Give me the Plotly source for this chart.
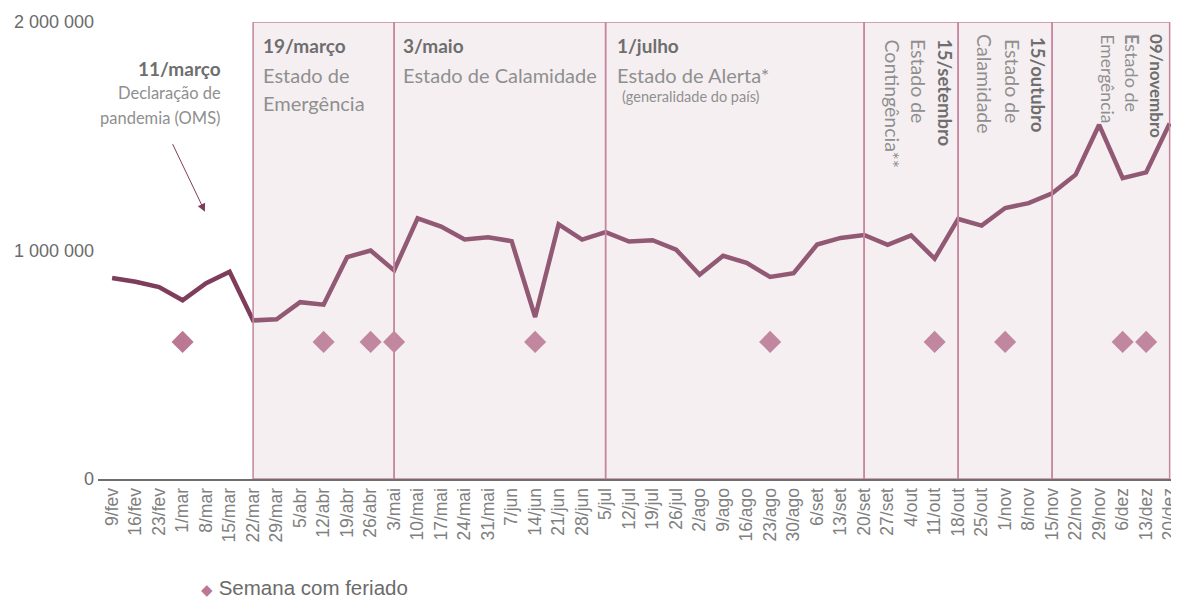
import plotly.graph_objects as go

# weekly series (semanas a partir de 9/fev)
weeks = [
    "9/fev", "16/fev", "23/fev", "1/mar", "8/mar", "15/mar", "22/mar", "29/mar",
    "5/abr", "12/abr", "19/abr", "26/abr", "3/mai", "10/mai", "17/mai", "24/mai",
    "31/mai", "7/jun", "14/jun", "21/jun", "28/jun", "5/jul", "12/jul", "19/jul",
    "26/jul", "2/ago", "9/ago", "16/ago", "23/ago", "30/ago", "6/set", "13/set",
    "20/set", "27/set", "4/out", "11/out", "18/out", "25/out", "1/nov", "8/nov",
    "15/nov", "22/nov", "29/nov", "6/dez", "13/dez", "20/dez",
]
values = [
    880000, 863000, 840000, 782000, 857000, 907000, 694000, 699000,
    774000, 763000, 971000, 1000000, 913000, 1141000, 1105000, 1048000,
    1058000, 1041000, 709000, 1114000, 1048000, 1080000, 1039000, 1045000,
    1004000, 894000, 977000, 946000, 884000, 901000, 1026000, 1055000,
    1068000, 1025000, 1066000, 964000, 1138000, 1109000, 1186000, 1207000,
    1250000, 1332000, 1550000, 1317000, 1342000, 1556000,
]
holiday_weeks = ["1/mar", "12/abr", "26/abr", "3/mai", "14/jun", "23/ago",
                 "11/out", "1/nov", "6/dez", "13/dez"]
holiday_level = 600000

# periods: start week, end week
period_start = ["22/mar", "3/mai", "5/jul", "20/set", "18/out", "15/nov"]
period_end = ["3/mai", "5/jul", "20/set", "18/out", "15/nov", "20/dez"]

y_ticks = [0, 1000000, 2000000]
y_ticktext = ["0", "1 000 000", "2 000 000"]

idx = {w: i for i, w in enumerate(weeks)}

# the page body has an 8px margin, so the figure is drawn 8px smaller
OFF = 8
FIG_W, FIG_H = 1179 - OFF, 601 - OFF
# plot area in screen pixels
L, T, W, H = 98, 22, 1074, 457


def px(x):
    return (x - L) / W


def py(y):
    return (T + H - y) / H


LINE = "#7E3D5B"
TITLE_C = "#6E6E6E"
DESC_C = "#8F8F8F"
FONT = "Lato"

fig = go.Figure()

fig.add_trace(go.Scatter(
    x=list(range(len(weeks))), y=values, mode="lines",
    line={"color": LINE, "width": 4.5}, showlegend=False, hoverinfo="skip",
))
fig.add_trace(go.Scatter(
    x=[idx[w] for w in holiday_weeks], y=[holiday_level] * len(holiday_weeks),
    mode="markers", name="Semana com feriado", showlegend=False,
    marker={"symbol": "diamond", "size": 17, "color": "#BA7893"},
))

shapes = []
for s, e in zip(period_start, period_end):
    shapes.append(dict(
        type="rect", xref="x", yref="y", x0=idx[s], x1=idx[e], y0=0, y1=2000000,
        fillcolor="rgba(216,186,199,0.23)", line={"color": "#C6869F", "width": 1.5},
        layer="above",
    ))

ann = []


def text(x, y, t, size, color, bold=False, xanchor="left", angle=0, yanchor="middle",
         family=FONT):
    ann.append(dict(
        xref="paper", yref="paper", x=px(x), y=py(y), text=f"<b>{t}</b>" if bold else t,
        showarrow=False, xanchor=xanchor, yanchor=yanchor, textangle=angle,
        font={"family": family, "size": size, "color": color},
    ))


# 11/março
text(223, 68, "11/março", 19, TITLE_C, True, xanchor="right")
text(223, 93, "Declaração de", 16.5, DESC_C, xanchor="right")
text(223, 118, "pandemia (OMS)", 16.5, DESC_C, xanchor="right")
ann.append(dict(
    xref="x", yref="y", x=3.95, y=1170000, ax=-33, ay=-69, text="",
    showarrow=True, arrowhead=2, arrowsize=1.6, arrowwidth=1, arrowcolor=LINE,
))

# horizontal labels
text(261, 46, "19/março", 19, TITLE_C, True)
text(261, 75, "Estado de", 20, DESC_C)
text(261, 103, "Emergência", 20, DESC_C)
text(401, 46, "3/maio", 19, TITLE_C, True)
text(401, 75, "Estado de Calamidade", 20, DESC_C)
text(615, 46, "1/julho", 19, TITLE_C, True)
text(615, 75, "Estado de Alerta*", 20, DESC_C)
text(620, 97, "(generalidade do país)", 14.5, DESC_C)

# vertical labels
text(945, 37, "15/setembro", 18.5, TITLE_C, True, xanchor="center", angle=90, yanchor="top")
text(918, 37, "Estado de", 19.5, DESC_C, xanchor="center", angle=90, yanchor="top")
text(892, 37, "Contingência**", 19.5, DESC_C, xanchor="center", angle=90, yanchor="top")
text(1038, 35, "15/outubro", 18.5, TITLE_C, True, xanchor="center", angle=90, yanchor="top")
text(1012, 37, "Estado de", 19.5, DESC_C, xanchor="center", angle=90, yanchor="top")
text(985, 32, "Calamidade", 19.5, DESC_C, xanchor="center", angle=90, yanchor="top")
text(1157, 32, "09/novembro", 17, TITLE_C, True, xanchor="center", angle=90, yanchor="top")
text(1132, 32, "<b>E</b>stado de", 18, DESC_C, xanchor="center", angle=90, yanchor="top")
text(1107, 32, "Emergência", 17.5, DESC_C, xanchor="center", angle=90, yanchor="top")

# legend drawn as text so it does not push the margins
text(199, 587, "<span style='color:#BA7893;font-size:15px'>◆</span> Semana com feriado",
     20.5, "#6B6B6B", family="Liberation Sans")

fig.update_layout(
    width=FIG_W, height=FIG_H,
    margin={"l": L - OFF, "r": FIG_W - (L - OFF) - W, "t": T - OFF, "b": FIG_H - (T - OFF) - H},
    plot_bgcolor="white", paper_bgcolor="white",
    shapes=shapes, annotations=ann,
    showlegend=False,
    xaxis={
        "range": [-0.6, 45.1], "tickmode": "array", "tickvals": list(range(len(weeks))),
        "ticktext": weeks, "tickangle": -90, "showgrid": False, "zeroline": False,
        "showline": True, "linecolor": "#6E6E6E", "linewidth": 2, "ticks": "",
        "automargin": False, "ticklabeloverflow": "allow",
        "tickfont": {"family": "Liberation Sans", "size": 17.5, "color": "#808080"},
    },
    yaxis={
        "range": [0, 2000000], "tickmode": "array", "tickvals": y_ticks,
        "ticktext": y_ticktext, "showgrid": False, "zeroline": False, "showline": False,
        "ticks": "", "ticklabelstandoff": 3, "automargin": False,
        "tickfont": {"family": "Liberation Sans", "size": 18, "color": "#6B6B6B"},
    },
)

fig.write_html("out.html")
